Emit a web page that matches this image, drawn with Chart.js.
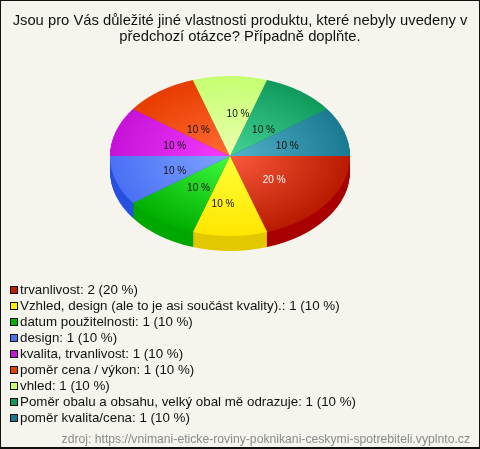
<!DOCTYPE html>
<html>
<head>
<meta charset="utf-8">
<title>Jiné vlastnosti produktu</title>
<script src="https://cdn.jsdelivr.net/npm/chart.js@4/dist/chart.umd.min.js"></script>
<style>
	html, body { margin: 0; padding: 0; background: #f5f5ee; }
	#frame { position: relative; width: 480px; height: 449px; box-sizing: border-box; border: 1px solid #111; border-bottom-width: 2px; background: #f5f5ee; overflow: hidden; font-family: "Liberation Sans", Arial, sans-serif; }
	#myChart { position: absolute; left: -1px; top: -1px; }
	#legend { position: absolute; left: 9px; top: 281px; margin: 0; padding: 0; list-style: none; font-size: 13.35px; color: #111; }
	#legend li { height: 16px; line-height: 16px; white-space: nowrap; }
	#legend i { display: inline-block; box-sizing: border-box; width: 8px; height: 8px; margin-right: 2px; border: 1px solid #111; vertical-align: 0; }
	#source { position: absolute; right: 9px; top: 431px; font-size: 12.2px; line-height: 14px; color: #8a8a8a; white-space: nowrap; }
</style>
</head>
<body>
<div id="frame">
	<canvas id="myChart" width="480" height="449"></canvas>
	<ul id="legend"></ul>
	<div id="source"></div>
</div>
<script>
// data
const titleLines = ['Jsou pro Vás důležité jiné vlastnosti produktu, které nebyly uvedeny v', 'předchozí otázce? Případně doplňte.'];
const categories = ['trvanlivost', 'Vzhled, design (ale to je asi součást kvality).', 'datum použitelnosti', 'design', 'kvalita, trvanlivost', 'poměr cena / výkon', 'vhled', 'Poměr obalu a obsahu, velký obal mě odrazuje', 'poměr kvalita/cena'];
const counts = [2, 1, 1, 1, 1, 1, 1, 1, 1];
const percents = [20, 10, 10, 10, 10, 10, 10, 10, 10];
const sourceText = 'zdroj: https://vnimani-eticke-roviny-poknikani-ceskymi-spotrebiteli.vyplnto.cz';

// colours
const edgeColors = ['#b81a00', '#ffe600', '#00ae00', '#4a70f5', '#c612d8', '#e83c00', '#c4ff70', '#0f9a5c', '#1a7a92'];
const centerColors = ['#fa5a3c', '#ffff38', '#40fa40', '#80a4ff', '#f63cff', '#ff6c34', '#ecffb0', '#44d496', '#54b2ca'];
const sideColors = ['#a80000', '#e2c800', '#00a800', '#2850e0', '#a00cb0', '#b83000', '#9ccc58', '#0a7a48', '#146074'];
const legendColors = ['#c02000', '#ffee00', '#00b400', '#4a70f5', '#c814d8', '#e84000', '#c8ff70', '#109a5c', '#1a7a90'];
const labelColors = ['#ffffff', '#111', '#111', '#111', '#111', '#111', '#111', '#111', '#111'];
// posun popisku oproti vypocitane pozici
const labelNudge = [[-2, 2], [-7, 10], [2, 1], [-1, 4], [-1, 2], [2, 5], [8, -4], [0, 5], [3, 2]];

const cx = 230, pieY = 156, squash = 2 / 3, depth = 15;

// legenda a zdroj
document.getElementById('legend').innerHTML = categories.map((name, i) =>
	'<li><i style="background:' + legendColors[i] + '"></i>' + name + ': ' + counts[i] + ' (' + percents[i] + ' %)</li>'
).join('');
document.getElementById('source').textContent = sourceText;

// stlaceni kolace do elipsy
function squashCtx(ctx, el) {
	ctx.translate(cx, pieY);
	ctx.scale(1, squash);
	ctx.translate(-el.x, -el.y);
}

const pie3d = {
	id: 'pie3d',
	beforeDatasetDraw(chart) {
		const ctx = chart.ctx;
		const arcs = chart.getDatasetMeta(0).data;
		// bocni stena
		for (let d = depth; d >= 1; d--) {
			arcs.forEach((el, i) => {
				ctx.save();
				ctx.translate(0, d);
				squashCtx(ctx, el);
				const opts = el.options;
				el.options = Object.assign({}, opts, { backgroundColor: sideColors[i] });
				el.draw(ctx);
				el.options = opts;
				ctx.restore();
			});
		}
		ctx.save();
		squashCtx(ctx, arcs[0]);
	},
	afterDatasetDraw(chart) {
		chart.ctx.restore();
	},
	afterDatasetsDraw(chart) {
		const ctx = chart.ctx;
		ctx.save();
		ctx.font = '10px "Liberation Sans", Arial, sans-serif';
		ctx.textAlign = 'center';
		ctx.textBaseline = 'middle';
		chart.getDatasetMeta(0).data.forEach((el, i) => {
			const mid = (el.startAngle + el.endAngle) / 2;
			const r = el.outerRadius * 0.475;
			ctx.fillStyle = labelColors[i];
			ctx.fillText(percents[i] + ' %', cx + r * Math.cos(mid) + labelNudge[i][0], pieY + r * squash * Math.sin(mid) + labelNudge[i][1]);
		});
		ctx.restore();
	}
};

const canvas = document.getElementById('myChart');
const chart = new Chart(canvas.getContext('2d'), {
	type: 'pie',
	plugins: [pie3d],
	data: {
		labels: categories,
		datasets: [{
			data: counts,
			clip: false,
			borderWidth: 0,
			hoverOffset: 0,
			backgroundColor(c) {
				const g = c.chart.ctx.createRadialGradient(240, 165, 0, 240, 165, 120);
				g.addColorStop(0, centerColors[c.dataIndex]);
				g.addColorStop(1, edgeColors[c.dataIndex]);
				return g;
			}
		}]
	},
	options: {
		responsive: false,
		animation: false,
		rotation: 90,
		layout: { padding: { bottom: 164 } },
		plugins: {
			legend: { display: false },
			tooltip: { enabled: false },
			title: {
				display: true,
				text: titleLines,
				color: '#111',
				font: { family: '"Liberation Sans", Arial, sans-serif', size: 14.77, weight: 'normal', lineHeight: 1.08 },
				padding: { top: 13, bottom: 0 }
			}
		}
	}
});
</script>
</body>
</html>
